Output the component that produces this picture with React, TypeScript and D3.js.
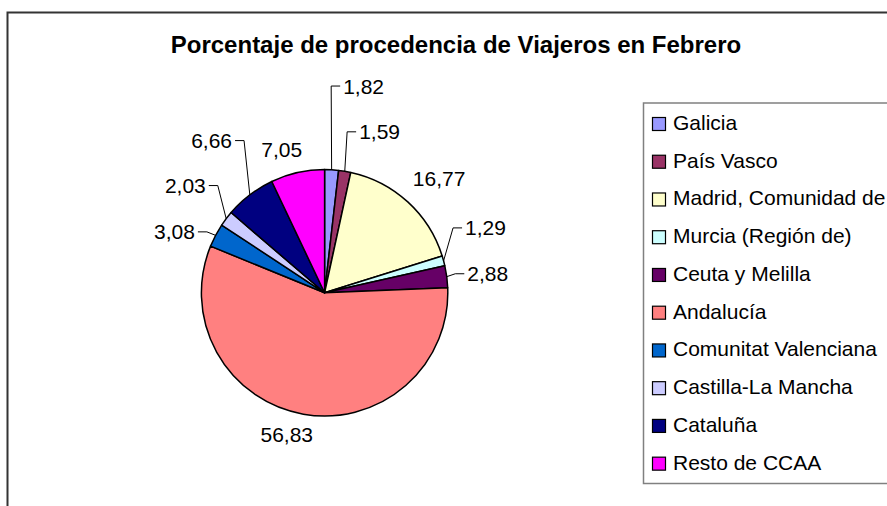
import React from "react";
import * as d3 from "d3";

const categories = [
  "Galicia",
  "País Vasco",
  "Madrid, Comunidad de",
  "Murcia (Región de)",
  "Ceuta y Melilla",
  "Andalucía",
  "Comunitat Valenciana",
  "Castilla-La Mancha",
  "Cataluña",
  "Resto de CCAA",
];
const values = [1.82, 1.59, 16.77, 1.29, 2.88, 56.83, 3.08, 2.03, 6.66, 7.05];
const valueLabels = ["1,82", "1,59", "16,77", "1,29", "2,88", "56,83", "3,08", "2,03", "6,66", "7,05"];
const colors = [
  "#9999FF",
  "#993366",
  "#FFFFCC",
  "#CCFFFF",
  "#660066",
  "#FF8080",
  "#0066CC",
  "#CCCCFF",
  "#000080",
  "#FF00FF",
];
const title = "Porcentaje de procedencia de Viajeros en Febrero";

// layout (label nudges relative to default outside position; leader flags)
const labelNudges: [number, number][] = [
  [10, -57],
  [10, -13],
  [-13, -4],
  [-4.4, -26],
  [-6, 0.6],
  [14.4, -5.7],
  [3, 9],
  [1, -17],
  [-1.5, -33],
  [10.5, 3],
];
const showLeader = [true, true, false, true, true, false, true, true, true, false];

const W = 887;
const H = 506;
const FONT = "'Liberation Sans', Arial, Helvetica, sans-serif";

export default function App() {
  const cx = 324.6;
  const cy = 292.8;
  const r = 123.2;
  const labelR = 150;

  const pie = d3
    .pie<number>()
    .sort(null)
    .value((d) => d)
    .startAngle(0)
    .endAngle(2 * Math.PI);
  const arcs = pie(values);
  const arcGen = d3.arc<d3.PieArcDatum<number>>().innerRadius(0).outerRadius(r);

  const legendX = 643.5;
  const legendY = 103;
  const rowH = 37.74;

  return (
    <svg
      width={W}
      height={H}
      style={{ position: "absolute", left: 0, top: 0, background: "#fff" }}
      fontFamily={FONT}
    >
      <rect x={0} y={0} width={W} height={H} fill="#fff" />
      {/* chart area border (cropped) */}
      <rect x={7.5} y={12.5} width={W + 20} height={H + 20} fill="none" stroke="#333" strokeWidth={2} />
      <text x={456} y={53} textAnchor="middle" fontSize={24} fontWeight="bold" fill="#000">
        {title}
      </text>

      <g transform={`translate(${cx},${cy})`}>
        {arcs.map((a, i) => (
          <path key={i} d={arcGen(a) || ""} fill={colors[i]} stroke="#000" strokeWidth={1.5} strokeLinejoin="round" />
        ))}
      </g>

      {arcs.map((a, i) => {
        const mid = (a.startAngle + a.endAngle) / 2;
        const s = Math.sin(mid);
        const c = Math.cos(mid);
        const right = s >= 0;
        const tx = cx + labelR * s + labelNudges[i][0];
        const ty = cy - labelR * c + labelNudges[i][1];
        const ex = cx + r * s;
        const ey = cy - r * c;
        const dir = right ? -1 : 1;
        const endX = tx + dir * 3;
        const elbowX = tx + dir * 12;
        const line = d3.line()([
          [ex, ey],
          [elbowX, ty],
          [endX, ty],
        ]);
        return (
          <g key={i}>
            {showLeader[i] && <path d={line || ""} fill="none" stroke="#000" strokeWidth={1} />}
            <text x={tx} y={ty + 7.5} textAnchor={right ? "start" : "end"} fontSize={21} fill="#000">
              {valueLabels[i]}
            </text>
          </g>
        );
      })}

      {/* legend */}
      <rect x={legendX} y={legendY} width={W} height={483.5 - legendY} fill="#fff" stroke="#808080" strokeWidth={1.5} />
      {categories.map((name, i) => (
        <g key={name}>
          <rect
            x={652.5}
            y={117.5 + i * rowH}
            width={13}
            height={13}
            fill={colors[i]}
            stroke="#000"
            strokeWidth={1.2}
          />
          <text x={673} y={130 + i * rowH} fontSize={21} fill="#000">
            {name}
          </text>
        </g>
      ))}
    </svg>
  );
}
